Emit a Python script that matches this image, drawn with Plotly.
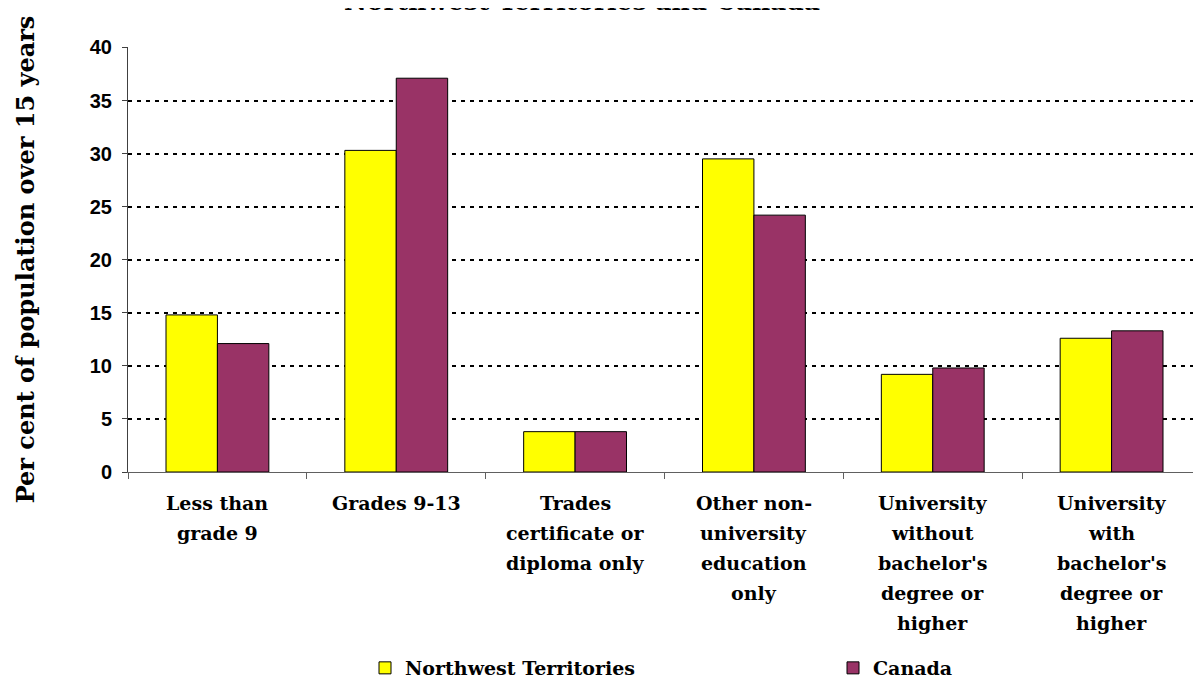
import plotly.graph_objects as go

categories = [
    "Less than<br>grade 9",
    "Grades 9-13",
    "Trades<br>certificate or<br>diploma only",
    "Other non-<br>university<br>education<br>only",
    "University<br>without<br>bachelor's<br>degree or<br>higher",
    "University<br>with<br>bachelor's<br>degree or<br>higher",
]
nwt_values = [14.8, 30.3, 3.8, 29.5, 9.2, 12.6]
canada_values = [12.1, 37.1, 3.8, 24.2, 9.8, 13.3]
series_names = ["Northwest Territories", "Canada"]
y_ticks = [0, 5, 10, 15, 20, 25, 30, 35, 40]
title_text = "Northwest Territories and Canada"
y_title = "Per cent of population over 15 years"

SERIF = "DejaVu Serif"
SANS = "Liberation Sans"

# page body has an 8px margin, so the figure is 1193x671 inside a 1201x679 window
W, H = 1193, 671
ML, MT = 120, 39
PLOT_BOTTOM = 464
PH = PLOT_BOTTOM - MT
PW = W - ML

fig = go.Figure()
fig.add_trace(go.Bar(
    x=categories, y=nwt_values, name=series_names[0], legend="legend",
    marker=dict(color="#FFFF00", line=dict(color="#000000", width=1)),
))
fig.add_trace(go.Bar(
    x=categories, y=canada_values, name=series_names[1], legend="legend2",
    marker=dict(color="#993366", line=dict(color="#000000", width=1)),
))

annotations = []
for cat in categories:
    for i, line in enumerate(cat.split("<br>")):
        ypix = 495 + 30 * i
        annotations.append(dict(
            x=cat, xref="x", y=(PLOT_BOTTOM - ypix) / PH, yref="paper",
            text="<b>%s</b>" % line, showarrow=False,
            xanchor="center", yanchor="middle",
            font=dict(family=SERIF, size=19, color="#000000"),
        ))

annotations.append(dict(
    x=(574 - ML) / PW, xref="paper", y=(PLOT_BOTTOM + 6) / PH, yref="paper",
    text="<b>%s</b>" % title_text, showarrow=False,
    xanchor="center", yanchor="middle",
    font=dict(family=SERIF, size=25, color="#000000"),
))

legend_common = dict(
    orientation="h", xanchor="left",
    y=(PLOT_BOTTOM - 660) / PH, yanchor="middle",
    font=dict(family=SERIF, size=19, color="#000000", weight="bold"),
    bgcolor="rgba(0,0,0,0)", borderwidth=0, itemclick=False,
)

fig.update_layout(
    width=W, height=H,
    margin=dict(l=ML, r=0, t=MT, b=H - PLOT_BOTTOM, pad=0, autoexpand=False),
    paper_bgcolor="#FFFFFF", plot_bgcolor="#FFFFFF",
    barmode="group", bargap=0.425, bargroupgap=0,
    showlegend=True,
    legend=dict(x=(357 - ML) / PW, **legend_common),
    legend2=dict(x=(825 - ML) / PW, **legend_common),
    annotations=annotations,
    xaxis=dict(
        type="category", showline=True, linecolor="#606060", linewidth=1,
        ticks="outside", tickson="boundaries", ticklen=6, tickcolor="#606060",
        showticklabels=False, showgrid=False, zeroline=False,
    ),
    yaxis=dict(
        range=[0, 40.04], tickvals=y_ticks, ticktext=[str(v) for v in y_ticks],
        showline=True, linecolor="#404040", linewidth=1,
        ticks="outside", ticklen=5, tickcolor="#404040",
        tickfont=dict(family=SANS, size=20, color="#000000", weight="bold"),
        ticklabelstandoff=6,
        showgrid=True, gridcolor="#000000", gridwidth=2, griddash="4px,5px",
        zeroline=False,
        title=dict(text="<b>%s</b>" % y_title, standoff=48,
                   font=dict(family=SERIF, size=24, color="#000000")),
        automargin=False,
    ),
)

fig.write_html("out.html")
